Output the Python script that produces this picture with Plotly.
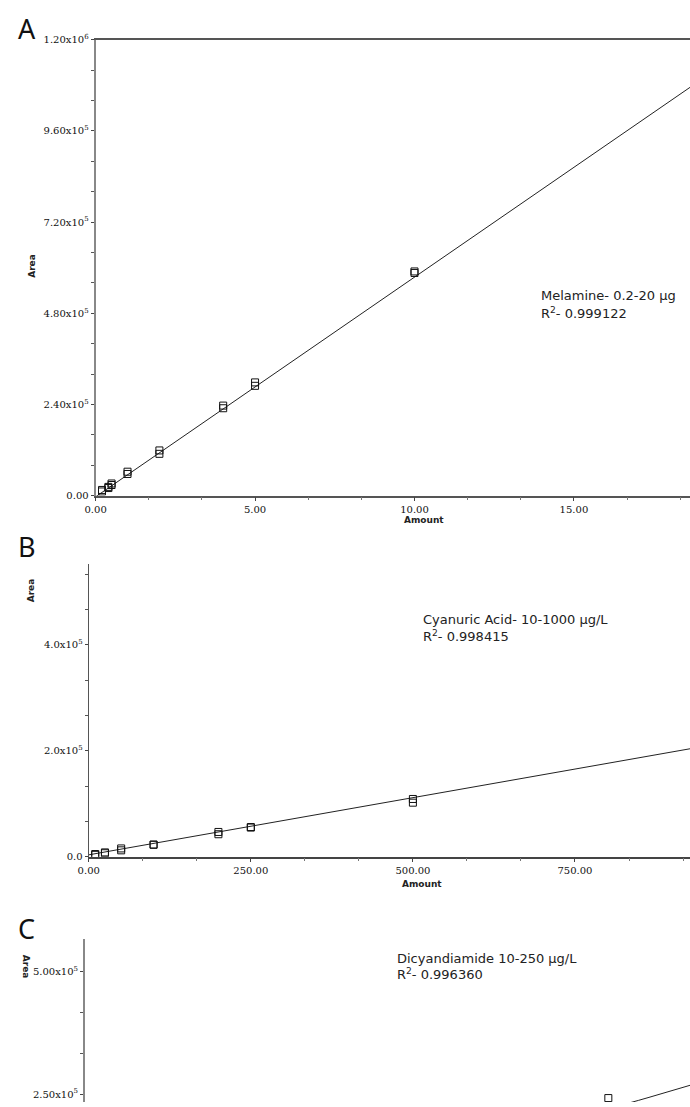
import numpy as np
import plotly.graph_objects as go

# panel A - melamine calibration (replicates)
amount_a = [0.2, 0.2, 0.4, 0.4, 0.5, 0.5, 1, 1, 2, 2, 4, 4, 5, 5, 10, 10]
area_a = [15000, 11000, 23000, 20000, 32000, 28000, 63000, 57000,
          119000, 110000, 237000, 230000, 298000, 289000, 590000, 586000]
fit_a = [57800, -3000]          # slope, intercept

# panel B - cyanuric acid
amount_b = [10, 10, 25, 25, 50, 50, 100, 100, 200, 200, 250, 250, 500, 500]
area_b = [5000, 3500, 8100, 6500, 15600, 12000, 22400, 23000,
          46700, 42400, 55000, 56000, 109000, 102000]
fit_b = [216, 3500]

# panel C - dicyandiamide (only the top of the curve is in view)
amount_c = [250]
area_c = [242000]
fit_c = [1.214, 576.5, 0]       # quadratic fit

ticks_a_x = [0, 5, 10, 15]
ticks_a_y = [0, 2.4e5, 4.8e5, 7.2e5, 9.6e5, 1.2e6]
labels_a_y = ["0.00", "2.40x10<sup>5</sup>", "4.80x10<sup>5</sup>", "7.20x10<sup>5</sup>",
              "9.60x10<sup>5</sup>", "1.20x10<sup>6</sup>"]
ticks_b_x = [0, 250, 500, 750]
ticks_b_y = [0, 2e5, 4e5]
labels_b_y = ["0.0", "2.0x10<sup>5</sup>", "4.0x10<sup>5</sup>"]
ticks_c_y = [2.5e5, 5e5]
labels_c_y = ["2.50x10<sup>5</sup>", "5.00x10<sup>5</sup>"]

W, H = 690, 1107
def px(x):
    return x / W
def py(y):
    return 1 - y / H

xr_a = [0, 18.64]
xr_b = [0, 927.4]
xr_c = [0, 289]

fig = go.Figure()

def add_panel(xs, ys, fit, xr, n):
    xa = "x" if n == 1 else "x%d" % n
    ya = "y" if n == 1 else "y%d" % n
    fx = np.linspace(xr[0], xr[1], 60)
    fig.add_trace(go.Scatter(x=fx, y=np.polyval(fit, fx), mode="lines",
                             line=dict(color="#222", width=1), xaxis=xa, yaxis=ya))
    fig.add_trace(go.Scatter(x=xs, y=ys, mode="markers", xaxis=xa, yaxis=ya,
                             marker=dict(symbol="square-open", size=7, color="#111",
                                         line=dict(width=1))))

add_panel(amount_a, area_a, fit_a, xr_a, 1)
add_panel(amount_b, area_b, fit_b, xr_b, 2)
add_panel(amount_c, area_c, fit_c, xr_c, 3)

tickfont = dict(family="DejaVu Serif", size=10, color="#111")
common = dict(showgrid=False, zeroline=False, ticks="outside", tickfont=tickfont,
              tickcolor="#444")

fig.update_layout(
    width=W, height=H, margin=dict(l=0, r=0, t=0, b=0),
    paper_bgcolor="white", plot_bgcolor="white", showlegend=False,
    xaxis=dict(common, domain=[px(86), 1], range=xr_a, anchor="y",
               tickvals=ticks_a_x, ticktext=["%.2f" % v for v in ticks_a_x],
               showline=True, linecolor="#555", linewidth=1.5, mirror=True, ticklen=4,
               minor=dict(ticks="outside", ticklen=3, tick0=0, dtick=5 / 3, tickcolor="#777")),
    yaxis=dict(common, domain=[py(494), py(33)], range=[0, 1.2e6], anchor="x",
               tickvals=ticks_a_y, ticktext=labels_a_y,
               showline=True, linecolor="#888", linewidth=2, ticklen=3,
               minor=dict(ticks="outside", ticklen=3, tick0=0, dtick=8e4, tickcolor="#555")),
    xaxis2=dict(common, domain=[px(79), 1], range=xr_b, anchor="y2",
                tickvals=ticks_b_x, ticktext=["%.2f" % v for v in ticks_b_x],
                showline=True, linecolor="#444", linewidth=1.5, ticklen=4,
                minor=dict(ticks="outside", ticklen=3, tick0=0, dtick=250 / 3, tickcolor="#777")),
    yaxis2=dict(common, domain=[py(859), py(563)], range=[0, 5.53e5], anchor="x2",
                tickvals=ticks_b_y, ticktext=labels_b_y,
                showline=True, linecolor="#555", linewidth=1.2, ticklen=3,
                minor=dict(ticks="outside", ticklen=3, tick0=0, dtick=2e5 / 3, tickcolor="#555")),
    xaxis3=dict(domain=[px(75), 1], range=xr_c, anchor="y3", showgrid=False,
                zeroline=False, showline=False, showticklabels=False, ticks=""),
    yaxis3=dict(common, domain=[0, py(942)], range=[2.34e5, 5.665e5], anchor="x3",
                tickvals=ticks_c_y, ticktext=labels_c_y,
                showline=True, linecolor="#888", linewidth=1.5, ticklen=3,
                minor=dict(ticks="outside", ticklen=3, tick0=0, dtick=2.5e5 / 3, tickcolor="#555")),
)

def note(x, y, text, size=13, family="DejaVu Sans", angle=0, xanchor="left", color="#222"):
    fig.add_annotation(x=px(x), y=py(y), xref="paper", yref="paper", text=text,
                       showarrow=False, xanchor=xanchor, yanchor="middle", textangle=angle,
                       font=dict(family=family, size=size, color=color))

# panel letters
note(5, 22, "A", size=27, family="Noto Sans", color="#111")
note(5, 545, "B", size=27, family="Noto Sans", color="#111")
note(5, 932, "C", size=27, family="Noto Sans", color="#111")

# axis titles
note(420, 519, "<b>Amount</b>", size=9, xanchor="center")
note(418, 887, "<b>Amount</b>", size=9, xanchor="center")
note(22, 262, "<b>Area</b>", size=9, angle=-90, xanchor="center")
note(20, 590, "<b>Area</b>", size=9, angle=-90, xanchor="center")
note(15, 970, "<b>Area</b>", size=9, angle=90, xanchor="center")

# calibration notes (the melamine one runs off the right edge in the original)
note(537, 292, "Melamine- 0.2-20 µg")
note(537, 309, "R<sup>2</sup>- 0.999122")
note(417, 619, "Cyanuric Acid- 10-1000 µg/L")
note(417, 636, "R<sup>2</sup>- 0.998415")
note(390, 962, "Dicyandiamide 10-250 µg/L")
note(390, 978, "R<sup>2</sup>- 0.996360")

fig.write_html("out.html", config={"displayModeBar": False},
               post_script="document.body.style.margin='0';document.body.style.overflow='hidden';")
